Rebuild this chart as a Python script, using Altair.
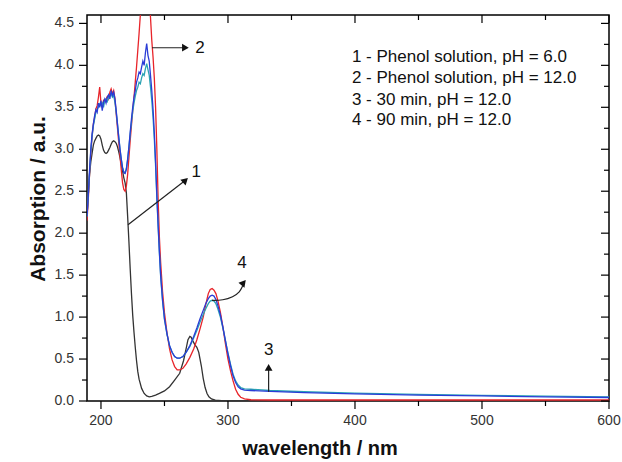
import altair as alt
import pandas as pd

# ---------------- data ----------------
wl_1 = [189, 190, 191, 192, 193, 194, 195, 196, 197, 198, 199, 200, 201, 202, 203, 204, 205, 206, 207, 208,
        209, 210, 211, 212, 213, 214, 215, 216, 217, 218, 219, 220, 221, 222, 223, 224, 225, 226, 227, 228,
        229, 230, 232, 234, 236, 238, 240, 243, 246, 250, 254, 258, 262, 265, 267, 268.5, 270, 271, 272.5,
        274, 275.5, 277, 278, 279, 280.5, 282, 283.5, 285, 287, 290, 295, 300, 350, 400, 450, 500, 550, 600]
abs_1 = [2.2, 2.45, 2.7, 2.85, 2.95, 3.05, 3.1, 3.13, 3.16, 3.17, 3.16, 3.12, 3.05, 2.99, 2.96, 2.95, 2.96, 2.99,
         3.02, 3.06, 3.09, 3.1, 3.09, 3.07, 3.03, 2.97, 2.9, 2.82, 2.74, 2.66, 2.6, 2.48, 2.2, 1.9, 1.58, 1.28,
         1.02, 0.82, 0.64, 0.48, 0.35, 0.26, 0.15, 0.09, 0.06, 0.05, 0.055, 0.07, 0.09, 0.12, 0.17, 0.25, 0.33,
         0.48, 0.62, 0.73, 0.77, 0.76, 0.71, 0.67, 0.64, 0.58, 0.5, 0.42, 0.27, 0.16, 0.09, 0.05, 0.025, 0.01,
         0.005, 0.003, 0.002, 0.002, 0.002, 0.002, 0.002, 0.002]

wl_234 = [189, 190, 191, 192, 193, 194, 195, 196, 197, 198, 199, 200, 201, 202, 203, 204, 205, 206, 207, 208,
          209, 210, 211, 212, 213, 214, 215, 216, 217, 218, 219, 220, 221, 222, 223, 224, 225, 226, 227, 228,
          229, 230, 231, 232, 233, 234, 235, 236, 237, 238, 239, 240, 241, 242, 243, 244, 245, 246, 247, 248.5,
          250, 252, 254, 256, 258, 260, 262, 264.5, 267, 270, 273, 275.5, 278, 280.5, 282.5, 284.5, 286, 287.5,
          289, 290.5, 292, 294, 296, 298, 300, 302, 304, 306, 308, 310, 313, 318, 333, 360, 400, 450, 500, 550, 600]
abs_2 = [2.15, 2.4, 2.7, 2.95, 3.15, 3.3, 3.38, 3.48, 3.52, 3.62, 3.74, 3.55, 3.5, 3.58, 3.56, 3.6, 3.63, 3.6,
         3.68, 3.72, 3.66, 3.7, 3.6, 3.42, 3.25, 3.08, 2.92, 2.75, 2.6, 2.52, 2.5, 2.56, 2.7, 2.9, 3.1, 3.28,
         3.46, 3.62, 3.8, 3.98, 4.18, 4.38, 4.6, 4.8, 4.9, 4.95, 5.0, 4.95, 4.9, 4.8, 4.57, 4.3, 4.1, 3.85, 3.5,
         3.0, 2.4, 1.95, 1.65, 1.3, 1.05, 0.81, 0.62, 0.49, 0.41, 0.37, 0.37, 0.39, 0.44, 0.52, 0.62, 0.73, 0.86,
         1.0, 1.15, 1.28, 1.33, 1.34, 1.32, 1.28, 1.2, 1.06, 0.88, 0.68, 0.5, 0.36, 0.24, 0.14, 0.08, 0.045,
         0.025, 0.015, 0.012, 0.012, 0.012, 0.012, 0.012, 0.012, 0.012]
abs_3 = [2.2, 2.45, 2.72, 2.98, 3.15, 3.28, 3.36, 3.44, 3.48, 3.5, 3.54, 3.52, 3.55, 3.5, 3.58, 3.6, 3.57, 3.62,
         3.64, 3.66, 3.62, 3.64, 3.56, 3.44, 3.3, 3.15, 3.0, 2.88, 2.78, 2.73, 2.72, 2.77, 2.88, 3.02, 3.18, 3.32,
         3.45, 3.55, 3.63, 3.7, 3.74, 3.8, 3.78, 3.85, 3.9, 3.88, 3.96, 4.02, 3.95, 3.88, 3.74, 3.58, 3.38, 3.12,
         2.8, 2.42, 2.08, 1.76, 1.48, 1.19, 0.97, 0.79, 0.66, 0.58, 0.53, 0.51, 0.51, 0.53, 0.58, 0.65, 0.75, 0.84,
         0.94, 1.03, 1.1, 1.16, 1.19, 1.2, 1.19, 1.16, 1.1, 1.0, 0.87, 0.72, 0.57, 0.44, 0.32, 0.24, 0.19, 0.16,
         0.145, 0.14, 0.125, 0.11, 0.095, 0.08, 0.068, 0.058, 0.05]
abs_4 = [2.2, 2.45, 2.75, 3.0, 3.18, 3.3, 3.4, 3.47, 3.44, 3.55, 3.5, 3.58, 3.46, 3.56, 3.6, 3.55, 3.62, 3.65,
         3.6, 3.7, 3.64, 3.68, 3.6, 3.46, 3.3, 3.14, 3.0, 2.88, 2.78, 2.72, 2.71, 2.76, 2.88, 3.03, 3.2, 3.36,
         3.5, 3.62, 3.7, 3.8, 3.85, 3.92, 3.9, 3.98, 4.05, 4.0, 4.15, 4.26, 4.12, 4.05, 3.88, 3.7, 3.48, 3.2,
         2.85, 2.45, 2.1, 1.78, 1.5, 1.2, 0.98, 0.8, 0.66, 0.58, 0.53, 0.51, 0.51, 0.53, 0.58, 0.66, 0.77, 0.87,
         0.98, 1.08, 1.16, 1.22, 1.25, 1.26, 1.25, 1.21, 1.14, 1.03, 0.88, 0.72, 0.56, 0.42, 0.3, 0.22, 0.17,
         0.145, 0.13, 0.125, 0.115, 0.1, 0.085, 0.07, 0.06, 0.05, 0.042]

legend_lines = ["1 - Phenol solution, pH = 6.0", "2 - Phenol solution, pH = 12.0",
                "3 - 30 min, pH = 12.0", "4 - 90 min, pH = 12.0"]
legend_wl = [397.6, 397.6, 397.6, 397.6]
legend_abs = [4.095, 3.845, 3.583, 3.345]

# straight annotation arrows: label, start (wl, A), end (wl, A), head angle
arrow_label = ["1", "2", "3"]
arrow_x1 = [221.3, 240.2, 332.0]
arrow_y1 = [2.10, 4.21, 0.11]
arrow_x2 = [266.5, 266.5, 332.0]
arrow_y2 = [2.63, 4.21, 0.40]
arrow_angle = [47, 90, 0]
label_x = [275.0, 278.0, 332.0]
label_y = [2.73, 4.21, 0.61]

# curved arrow "4"
curve4_x = [287.4, 296.0, 304.0, 309.4, 311.5]
curve4_y = [1.20, 1.20, 1.24, 1.30, 1.37]
head4_x = [312.3]
head4_y = [1.41]
label4_x = [311.0]
label4_y = [1.64]

# axes
x_major = [200, 300, 400, 500, 600]
x_minor = [250, 350, 450, 550]
y_major = [0, 0.5, 1.0, 1.5, 2.0, 2.5, 3.0, 3.5, 4.0, 4.5]
y_minor = [0.25, 0.75, 1.25, 1.75, 2.25, 2.75, 3.25, 3.75, 4.25]
x_title = ["wavelength / nm"]
y_title = ["Absorption / a.u."]

# ---------------- chart ----------------
W, H = 522, 386
FONT = "Liberation Sans"
INK = "#111111"
xs = alt.Scale(domain=[189, 600], nice=False, zero=False)
ys = alt.Scale(domain=[0, 4.6], nice=False, zero=False)


def X(field):
    return alt.X(field, scale=xs, axis=None)


def Y(field):
    return alt.Y(field, scale=ys, axis=None)


def series(wl, a, color):
    df = pd.DataFrame({"wl": wl, "A": a})
    return alt.Chart(df).mark_line(color=color, strokeWidth=1.3, clip=True).encode(
        x=X("wl:Q"), y=Y("A:Q"))


black = series(wl_1, abs_1, "#333333")
red = series(wl_234, abs_2, "#e8242a")
teal = series(wl_234, abs_3, "#2aa3b3")
blue = series(wl_234, abs_4, "#2a3cd6")

leg_df = pd.DataFrame({"t": legend_lines, "wl": legend_wl, "A": legend_abs})
legend = alt.Chart(leg_df).mark_text(align="left", baseline="middle", font=FONT, fontSize=17,
                                      color=INK).encode(x=X("wl:Q"), y=Y("A:Q"), text="t:N")

arr_df = pd.DataFrame({"lab": arrow_label, "x1": arrow_x1, "y1": arrow_y1, "x2": arrow_x2,
                       "y2": arrow_y2, "ang": arrow_angle, "lx": label_x, "ly": label_y})
arrow_lines = alt.Chart(arr_df).mark_rule(color="#222222", strokeWidth=1.2).encode(
    x=X("x1:Q"), y=Y("y1:Q"), x2="x2:Q", y2="y2:Q")
arrow_heads = alt.Chart(arr_df).mark_point(shape="triangle-up", filled=True, color=INK,
                                           size=60, opacity=1).encode(
    x=X("x2:Q"), y=Y("y2:Q"), angle=alt.Angle("ang:Q", scale=None))
arrow_text = alt.Chart(arr_df).mark_text(font=FONT, fontSize=17, color=INK).encode(
    x=X("lx:Q"), y=Y("ly:Q"), text="lab:N")

c4 = pd.DataFrame({"x": curve4_x, "y": curve4_y})
curve4 = alt.Chart(c4).mark_line(color="#222222", strokeWidth=1.2, interpolate="basis").encode(
    x=X("x:Q"), y=Y("y:Q"))
h4 = pd.DataFrame({"x": head4_x, "y": head4_y, "lx": label4_x, "ly": label4_y, "t": ["4"]})
head4 = alt.Chart(h4).mark_point(shape="triangle-up", filled=True, color=INK, size=60,
                                 opacity=1, angle=40).encode(x=X("x:Q"), y=Y("y:Q"))
label4 = alt.Chart(h4).mark_text(font=FONT, fontSize=17, color=INK).encode(
    x=X("lx:Q"), y=Y("ly:Q"), text="t:N")

# ---- axes drawn as marks ----
xmaj_df = pd.DataFrame({"v": x_major})
xmin_df = pd.DataFrame({"v": x_minor})
ymaj_df = pd.DataFrame({"v": y_major})
ymin_df = pd.DataFrame({"v": y_minor})


def tick(df, **enc):
    return alt.Chart(df).mark_rule(color="black", strokeWidth=1.2).encode(**enc)


ticks = [
    tick(xmaj_df, x=X("v:Q"), y=alt.value(H), y2=alt.value(H + 8)),      # bottom major (out)
    tick(xmin_df, x=X("v:Q"), y=alt.value(H), y2=alt.value(H + 5)),      # bottom minor (out)
    tick(xmaj_df, x=X("v:Q"), y=alt.value(0), y2=alt.value(8)),          # top major (in)
    tick(xmin_df, x=X("v:Q"), y=alt.value(0), y2=alt.value(5)),          # top minor (in)
    tick(ymaj_df, y=Y("v:Q"), x=alt.value(0), x2=alt.value(-8)),         # left major (out)
    tick(ymin_df, y=Y("v:Q"), x=alt.value(0), x2=alt.value(-5)),         # left minor (out)
    tick(ymaj_df, y=Y("v:Q"), x=alt.value(W), x2=alt.value(W - 8)),      # right major (in)
    tick(ymin_df, y=Y("v:Q"), x=alt.value(W), x2=alt.value(W - 5)),      # right minor (in)
]

x_labels = alt.Chart(xmaj_df).mark_text(font=FONT, fontSize=14, color="#333333",
                                        baseline="middle", align="center").encode(
    x=X("v:Q"), y=alt.value(H + 20), text=alt.Text("v:Q", format="d"))
y_labels = alt.Chart(ymaj_df).mark_text(font=FONT, fontSize=14, color="#333333",
                                        baseline="middle", align="right").encode(
    y=Y("v:Q"), x=alt.value(-13), text=alt.Text("v:Q", format=".1f"))

xt = alt.Chart(pd.DataFrame({"t": x_title})).mark_text(
    font=FONT, fontSize=20, fontWeight="bold", color=INK, baseline="middle", align="center").encode(
    x=alt.value(233), y=alt.value(H + 48), text="t:N")
yt = alt.Chart(pd.DataFrame({"t": y_title})).mark_text(
    font=FONT, fontSize=21, fontWeight="bold", color=INK, baseline="middle", align="center",
    angle=270).encode(x=alt.value(-48), y=alt.value(184), text="t:N")

chart = alt.layer(
    black, red, teal, blue,
    arrow_lines, arrow_heads, arrow_text, curve4, head4, label4, legend,
    *ticks, x_labels, y_labels, xt, yt,
).properties(
    width=W, height=H, autosize=alt.AutoSizeParams(type="none"),
    padding={"left": 87, "top": 15, "right": 13, "bottom": 61},
    background="white",
).configure_view(
    stroke="black", strokeWidth=1.5,
)

chart.save("out.html", embed_options={"renderer": "svg", "actions": False})
